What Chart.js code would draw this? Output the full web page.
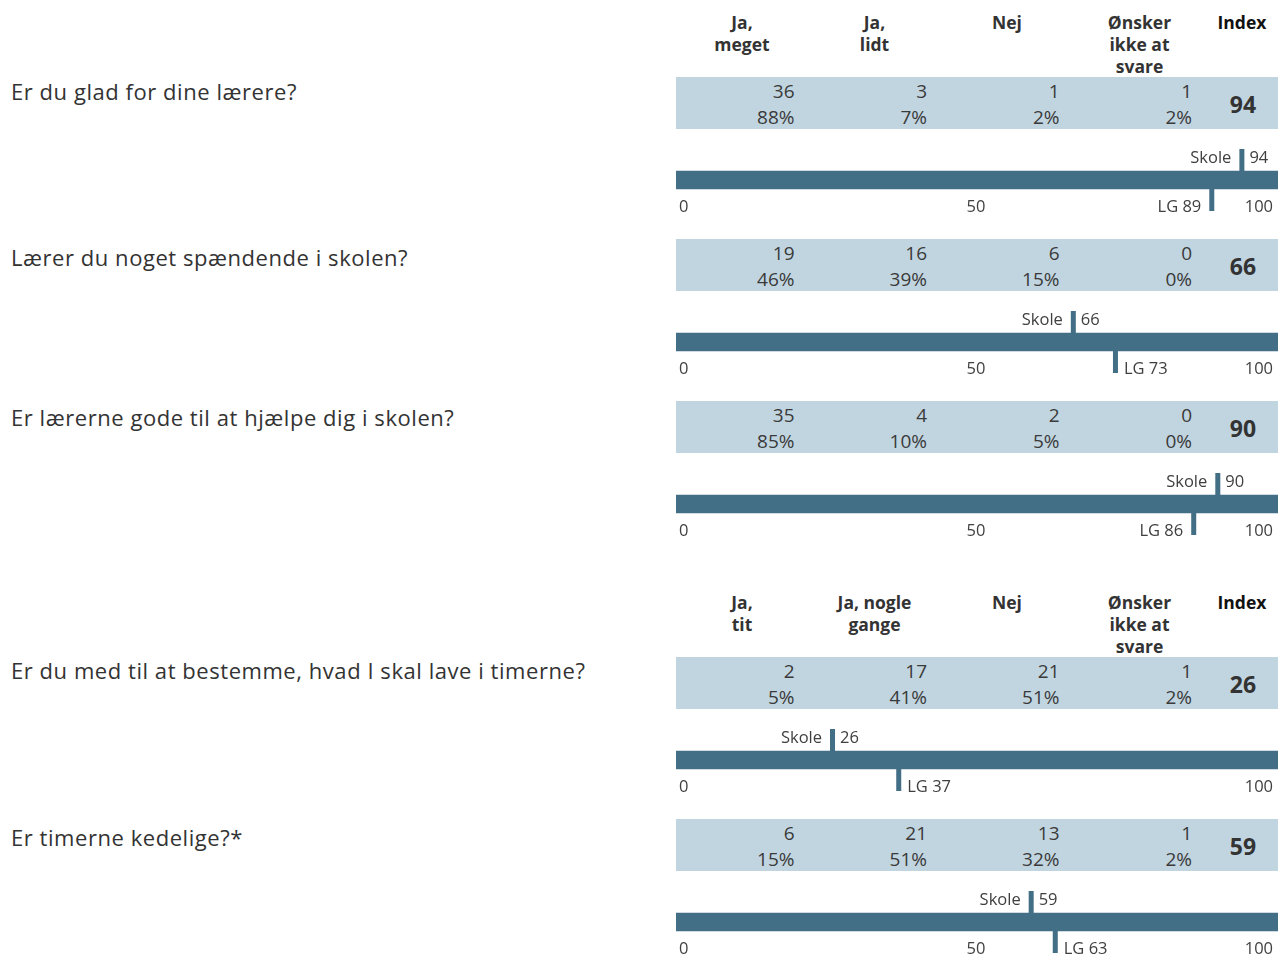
<!DOCTYPE html>
<html>
<head>
<meta charset="utf-8">
<script src="https://cdn.jsdelivr.net/npm/chart.js@4.4.1/dist/chart.umd.min.js"></script>
<style>
  html, body { margin: 0; padding: 0; background: #fff; }
  body { width: 1278px; height: 956px; position: relative; overflow: hidden; font-family: "Open Sans", sans-serif; }
  .q { position: absolute; left: 11px; font-size: 22px; line-height: 22px; letter-spacing: 0.55px; color: #333; white-space: nowrap; }
  .hdr { position: absolute; width: 132px; text-align: center; font-weight: bold; font-size: 17.5px; line-height: 22px; color: #333; white-space: pre; }
  .hdr.idx { color: #111; width: 72px; }
  .band { position: absolute; left: 676px; width: 602px; height: 52px; background: #c1d5e0; }
  .cell { position: absolute; width: 120px; text-align: right; font-size: 19px; line-height: 26px; color: #3a3a3a; white-space: pre; }
  .idxv { position: absolute; width: 72px; text-align: center; font-weight: bold; font-size: 23px; line-height: 23px; color: #333; }
  .cw { position: absolute; left: 676px; width: 602px; height: 98px; }
</style>
</head>
<body>
<script>
// ---- data ----
const questions = [
  "Er du glad for dine lærere?",
  "Lærer du noget spændende i skolen?",
  "Er lærerne gode til at hjælpe dig i skolen?",
  "Er du med til at bestemme, hvad I skal lave i timerne?",
  "Er timerne kedelige?*"
];
const headersA = ["Ja,\nmeget", "Ja,\nlidt", "Nej", "Ønsker\nikke at\nsvare"];
const headersB = ["Ja,\ntit", "Ja, nogle\ngange", "Nej", "Ønsker\nikke at\nsvare"];
const indexHeader = "Index";
const counts = [
  [36, 3, 1, 1],
  [19, 16, 6, 0],
  [35, 4, 2, 0],
  [2, 17, 21, 1],
  [6, 21, 13, 1]
];
const percents = [
  [88, 7, 2, 2],
  [46, 39, 15, 0],
  [85, 10, 5, 0],
  [5, 41, 51, 2],
  [15, 51, 32, 2]
];
const skoleIndex = [94, 66, 90, 26, 59];
const lgIndex = [89, 73, 86, 37, 63];
const tickLabels = [
  [0, 50, 100],
  [0, 50, 100],
  [0, 50, 100],
  [0, 100],
  [0, 50, 100]
];

// ---- layout (positions only) ----
const bandTops = [77, 239, 401, 657, 819];
const barTops = [171, 333, 495, 751, 913];
const qCenters = [92, 258, 418, 671, 838];
const headerGroups = [{ headers: headersA, bandIdx: 0 }, { headers: headersB, bandIdx: 3 }];
const lgLabelLeft = [true, false, true, false, false];
const colW = 132.5, x0 = 676;

function add(cls, css, text) {
  const d = document.createElement('div');
  d.className = cls;
  Object.assign(d.style, css);
  d.textContent = text;
  document.body.appendChild(d);
  return d;
}

// headers
headerGroups.forEach(g => {
  const top = bandTops[g.bandIdx] - 55 - 11.5;
  g.headers.forEach((h, k) => {
    add('hdr', { left: (x0 + colW * k) + 'px', top: top + 'px' }, h);
  });
  add('hdr idx', { left: (1242 - 36) + 'px', top: top + 'px' }, indexHeader);
});

// questions, bands, cells
questions.forEach((q, i) => {
  add('q', { top: (qCenters[i] - 11.7) + 'px' }, q);
  add('band', { top: bandTops[i] + 'px' }, '');
  counts[i].forEach((c, k) => {
    const right = x0 + colW * (k + 1) - 14;
    add('cell', { left: (right - 120) + 'px', top: (bandTops[i] + 1.4) + 'px' }, c + "\n" + percents[i][k] + "%");
  });
  add('idxv', { left: (1243 - 36) + 'px', top: (bandTops[i] + 28 - 12.2) + 'px' }, String(skoleIndex[i]));
});

// index bars
const barColor = '#426e86';
const labelFont = '16.5px "Open Sans", sans-serif';
const labelColor = '#404040';

const markerPlugin = {
  id: 'markers',
  afterDatasetsDraw(chart, args, opts) {
    const ctx = chart.ctx;
    const xs = chart.scales.x;
    const meta = chart.getDatasetMeta(0);
    const bar = meta.data[0];
    const top = bar.y - bar.height / 2;
    const bottom = bar.y + bar.height / 2;
    const mw = 5, mh = 22;
    ctx.save();
    ctx.fillStyle = barColor;
    const xs1 = xs.getPixelForValue(opts.skole);
    ctx.fillRect(xs1 - mw / 2, top - mh, mw, mh);
    const xl = xs.getPixelForValue(opts.lg);
    ctx.fillRect(xl - mw / 2, bottom, mw, mh);
    ctx.font = labelFont;
    ctx.fillStyle = labelColor;
    ctx.textBaseline = 'middle';
    const sy = top - 13;
    ctx.textAlign = 'right';
    ctx.fillText('Skole', xs1 - mw / 2 - 8, sy);
    ctx.textAlign = 'left';
    ctx.fillText(String(opts.skole), xs1 + mw / 2 + 5, sy);
    const ly = bottom + 18;
    if (opts.lgLeft) {
      ctx.textAlign = 'right';
      ctx.fillText('LG ' + opts.lg, xl - mw / 2 - 8, ly);
    } else {
      ctx.textAlign = 'left';
      ctx.fillText('LG ' + opts.lg, xl + mw / 2 + 6, ly);
    }
    opts.ticks.forEach(t => {
      const px = xs.getPixelForValue(t);
      if (t === xs.min) { ctx.textAlign = 'left'; ctx.fillText(String(t), px + 3, ly); }
      else if (t === xs.max) { ctx.textAlign = 'right'; ctx.fillText(String(t), px - 5, ly); }
      else { ctx.textAlign = 'center'; ctx.fillText(String(t), px - 1, ly); }
    });
    ctx.restore();
  }
};

questions.forEach((q, i) => {
  const wrap = add('cw', { top: (barTops[i] - 40) + 'px' }, '');
  const cv = document.createElement('canvas');
  wrap.appendChild(cv);
  new Chart(cv, {
    type: 'bar',
    data: {
      labels: [q],
      datasets: [{
        data: [[0, 100]],
        backgroundColor: barColor,
        borderWidth: 0,
        barThickness: 18
      }]
    },
    options: {
      indexAxis: 'y',
      responsive: true,
      maintainAspectRatio: false,
      animation: false,
      layout: { padding: 0 },
      plugins: {
        legend: { display: false },
        tooltip: { enabled: false },
        markers: { skole: skoleIndex[i], lg: lgIndex[i], lgLeft: lgLabelLeft[i], ticks: tickLabels[i] }
      },
      scales: {
        x: { type: 'linear', min: 0, max: 100, display: false },
        y: { display: false }
      }
    },
    plugins: [markerPlugin]
  });
});
</script>
</body>
</html>
